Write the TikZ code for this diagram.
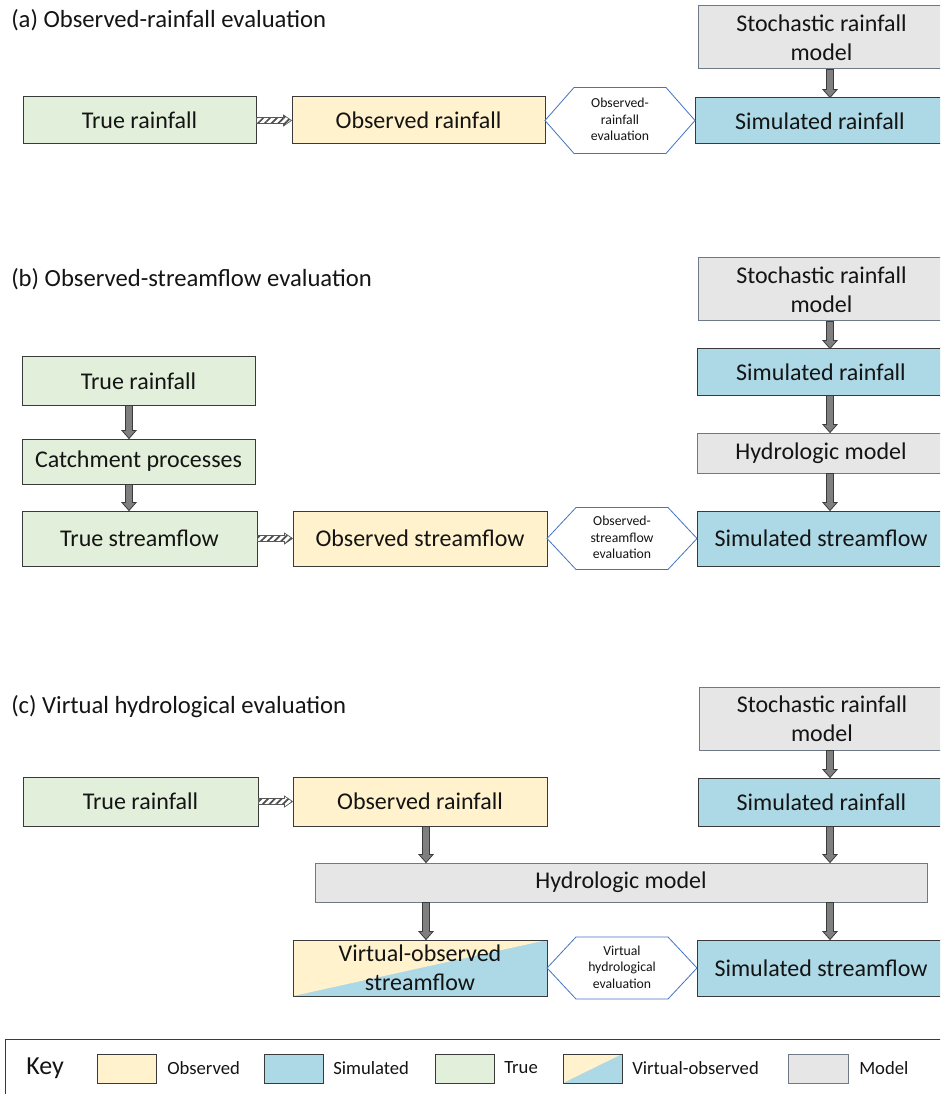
\documentclass[tikz,border=0pt]{standalone}
\usepackage{fontspec}
\setmainfont{Carlito}
\usetikzlibrary{calc,patterns.meta}

\definecolor{cTrue}{HTML}{E2EFDA}
\definecolor{cObs}{HTML}{FFF2CC}
\definecolor{cSim}{HTML}{ADD8E6}
\definecolor{cMod}{HTML}{E7E6E6}
\definecolor{cLine}{HTML}{3A3A3A}
\definecolor{cModLine}{HTML}{6E7A88}
\definecolor{cHex}{HTML}{4472C4}
\definecolor{cArrow}{HTML}{7F7F7F}
\definecolor{cTxt}{HTML}{141414}

\tikzset{
  basebox/.style={draw=cLine, line width=0.75pt, inner sep=0pt, align=center,
    text=cTxt, font=\fontsize{18}{21.5}\selectfont},
  truebox/.style={basebox, fill=cTrue},
  obsbox/.style={basebox, fill=cObs},
  simbox/.style={basebox, fill=cSim},
  modbox/.style={basebox, fill=cMod, draw=cModLine},
  vobox/.style={basebox, fill=cSim, path picture={
      \fill[cObs] (path picture bounding box.south west) -- (path picture bounding box.north east)
        -- (path picture bounding box.north west) -- cycle;}},
  hexline/.style={draw=cHex, line width=0.6pt, fill=white},
  hextext/.style={align=center, inner sep=0pt, text=cTxt, font=\fontsize{10.3}{12.4}\selectfont},
  titletext/.style={anchor=west, inner sep=0pt, text=cTxt, font=\fontsize{18.5}{22}\selectfont},
  keytext/.style={anchor=west, inner sep=0pt, text=cTxt, font=\fontsize{14}{16}\selectfont},
  blockarrow/.style={fill=cArrow, draw=cLine, line width=0.6pt, line join=miter},
  hatcharrow/.style={draw=cLine!85, line width=0.5pt, preaction={fill=white},
    pattern={Lines[angle=45,distance=3.6pt,line width=1.3pt]}, pattern color=cLine!90},
  keyline/.style={draw=cLine, line width=0.75pt},
}

\newcommand\bx[7]{\node[#6, minimum width={(#4-#2)*0.75pt}, minimum height={(#5-#3)*0.75pt}] (#1) at ({(#2+#4)/2},{(#3+#5)/2}) {#7};}
\newcommand\varrow[2]{\draw[blockarrow] let \p1=(#1), \p2=(#2) in
  (\x1-2.6pt,\y1) -- (\x1+2.6pt,\y1) -- (\x1+2.6pt,\y2+6pt) -- (\x1+5.3pt,\y2+6pt)
  -- (\x1,\y2) -- (\x1-5.3pt,\y2+6pt) -- (\x1-2.6pt,\y2+6pt) -- cycle;}
\newcommand\harrow[2]{\draw[hatcharrow] let \p1=(#1), \p2=(#2) in
  (\x1,\y1+2.3pt) -- (\x2-6pt,\y1+2.3pt) -- (\x2-6pt,\y1+4.1pt) -- (\x2,\y1)
  -- (\x2-6pt,\y1-4.1pt) -- (\x2-6pt,\y1-2.3pt) -- (\x1,\y1-2.3pt) -- cycle;}
\newcommand\hexa[6]{%
  \draw[hexline] (#1,#3) -- (#1+29,#3-#4) -- (#2-29,#3-#4) -- (#2,#3) -- (#2-29,#3+#4) -- (#1+29,#3+#4) -- cycle;
  \node[hextext] (#5) at ({(#1+#2)/2},#3-1) {#6};}

\begin{document}
\begin{tikzpicture}[x=0.75pt, y=-0.75pt]
\useasboundingbox (0,0) rectangle (940,1094);
\clip (0,0) rectangle (940,1094);

\coordinate (colR) at (830,0);
\coordinate (colL) at (129,0);
\coordinate (colM) at (426,0);

% ---------------- (a)
\node[titletext] (titleA) at (11,20) {(a) Observed-rainfall evaluation};
\bx{stochA}{698}{6}{945}{69}{modbox}{Stochastic rainfall\\model}
\bx{simRA}{695}{98}{945}{144}{simbox}{Simulated rainfall}
\bx{trueRA}{23}{97}{256}{144}{truebox}{True rainfall}
\bx{obsRA}{292}{97}{545}{144}{obsbox}{Observed rainfall}
\hexa{545}{695}{120.5}{33}{hexA}{Observed-\\rainfall\\evaluation}
\varrow{stochA.south -| colR}{simRA.north -| colR}
\harrow{trueRA.east}{obsRA.west}

% ---------------- (b)
\node[titletext] (titleB) at (11,279) {(b) Observed-streamflow evaluation};
\bx{stochB}{698}{258}{945}{321}{modbox}{Stochastic rainfall\\model}
\bx{simRB}{697}{349}{945}{395}{simbox}{Simulated rainfall}
\bx{hydB}{697}{433}{945}{473}{modbox}{Hydrologic model}
\bx{simSB}{697}{511}{945}{566}{simbox}{Simulated streamflow}
\bx{trueRB}{22}{357}{255}{405}{truebox}{True rainfall}
\bx{catchB}{22}{439}{255}{484}{truebox}{Catchment processes}
\bx{trueSB}{22}{511}{257}{566}{truebox}{True streamflow}
\bx{obsSB}{293}{511}{547}{566}{obsbox}{Observed streamflow}
\hexa{547}{697}{538.5}{31}{hexB}{Observed-\\streamflow\\evaluation}
\varrow{stochB.south -| colR}{simRB.north -| colR}
\varrow{simRB.south -| colR}{hydB.north -| colR}
\varrow{hydB.south -| colR}{simSB.north -| colR}
\varrow{trueRB.south -| colL}{catchB.north -| colL}
\varrow{catchB.south -| colL}{trueSB.north -| colL}
\harrow{trueSB.east}{obsSB.west}

% ---------------- (c)
\node[titletext] (titleC) at (11,707) {(c) Virtual hydrological evaluation};
\bx{stochC}{699}{687}{945}{750}{modbox}{Stochastic rainfall\\model}
\bx{simRC}{698}{778}{945}{826}{simbox}{Simulated rainfall}
\bx{trueRC}{23}{777}{258}{826}{truebox}{True rainfall}
\bx{obsRC}{293}{777}{547}{826}{obsbox}{Observed rainfall}
\bx{hydC}{315}{863}{927}{902}{modbox}{Hydrologic model}
\bx{voC}{293}{940}{547}{996}{vobox}{Virtual-observed\\streamflow}
\bx{simSC}{697}{940}{945}{996}{simbox}{Simulated streamflow}
\hexa{547}{697}{968}{31}{hexC}{Virtual\\hydrological\\evaluation}
\varrow{stochC.south -| colR}{simRC.north -| colR}
\varrow{simRC.south -| colR}{hydC.north -| colR}
\varrow{hydC.south -| colR}{simSC.north -| colR}
\varrow{obsRC.south -| colM}{hydC.north -| colM}
\varrow{hydC.south -| colM}{voC.north -| colM}
\harrow{trueRC.east}{obsRC.west}

% ---------------- key
\draw[keyline] (5,1110) -- (5,1039) -- (960,1039);
\node[anchor=west, inner sep=0pt, text=cTxt, font=\fontsize{19.5}{22}\selectfont] (keyK) at (26,1068) {Key};
\bx{kObs}{97}{1054}{156}{1083}{obsbox}{}
\node[keytext] (kObsT) at (167,1068) {Observed};
\bx{kSim}{264}{1054}{323}{1083}{simbox}{}
\node[keytext] (kSimT) at (333,1068) {Simulated};
\bx{kTrue}{435}{1054}{494}{1083}{truebox}{}
\node[keytext] (kTrueT) at (504,1068) {True};
\bx{kVo}{563}{1054}{622}{1083}{vobox}{}
\node[keytext] (kVoT) at (632,1068) {Virtual-observed};
\bx{kMod}{788}{1054}{848}{1083}{modbox}{}
\node[keytext] (kModT) at (859,1068) {Model};
\end{tikzpicture}
\end{document}
